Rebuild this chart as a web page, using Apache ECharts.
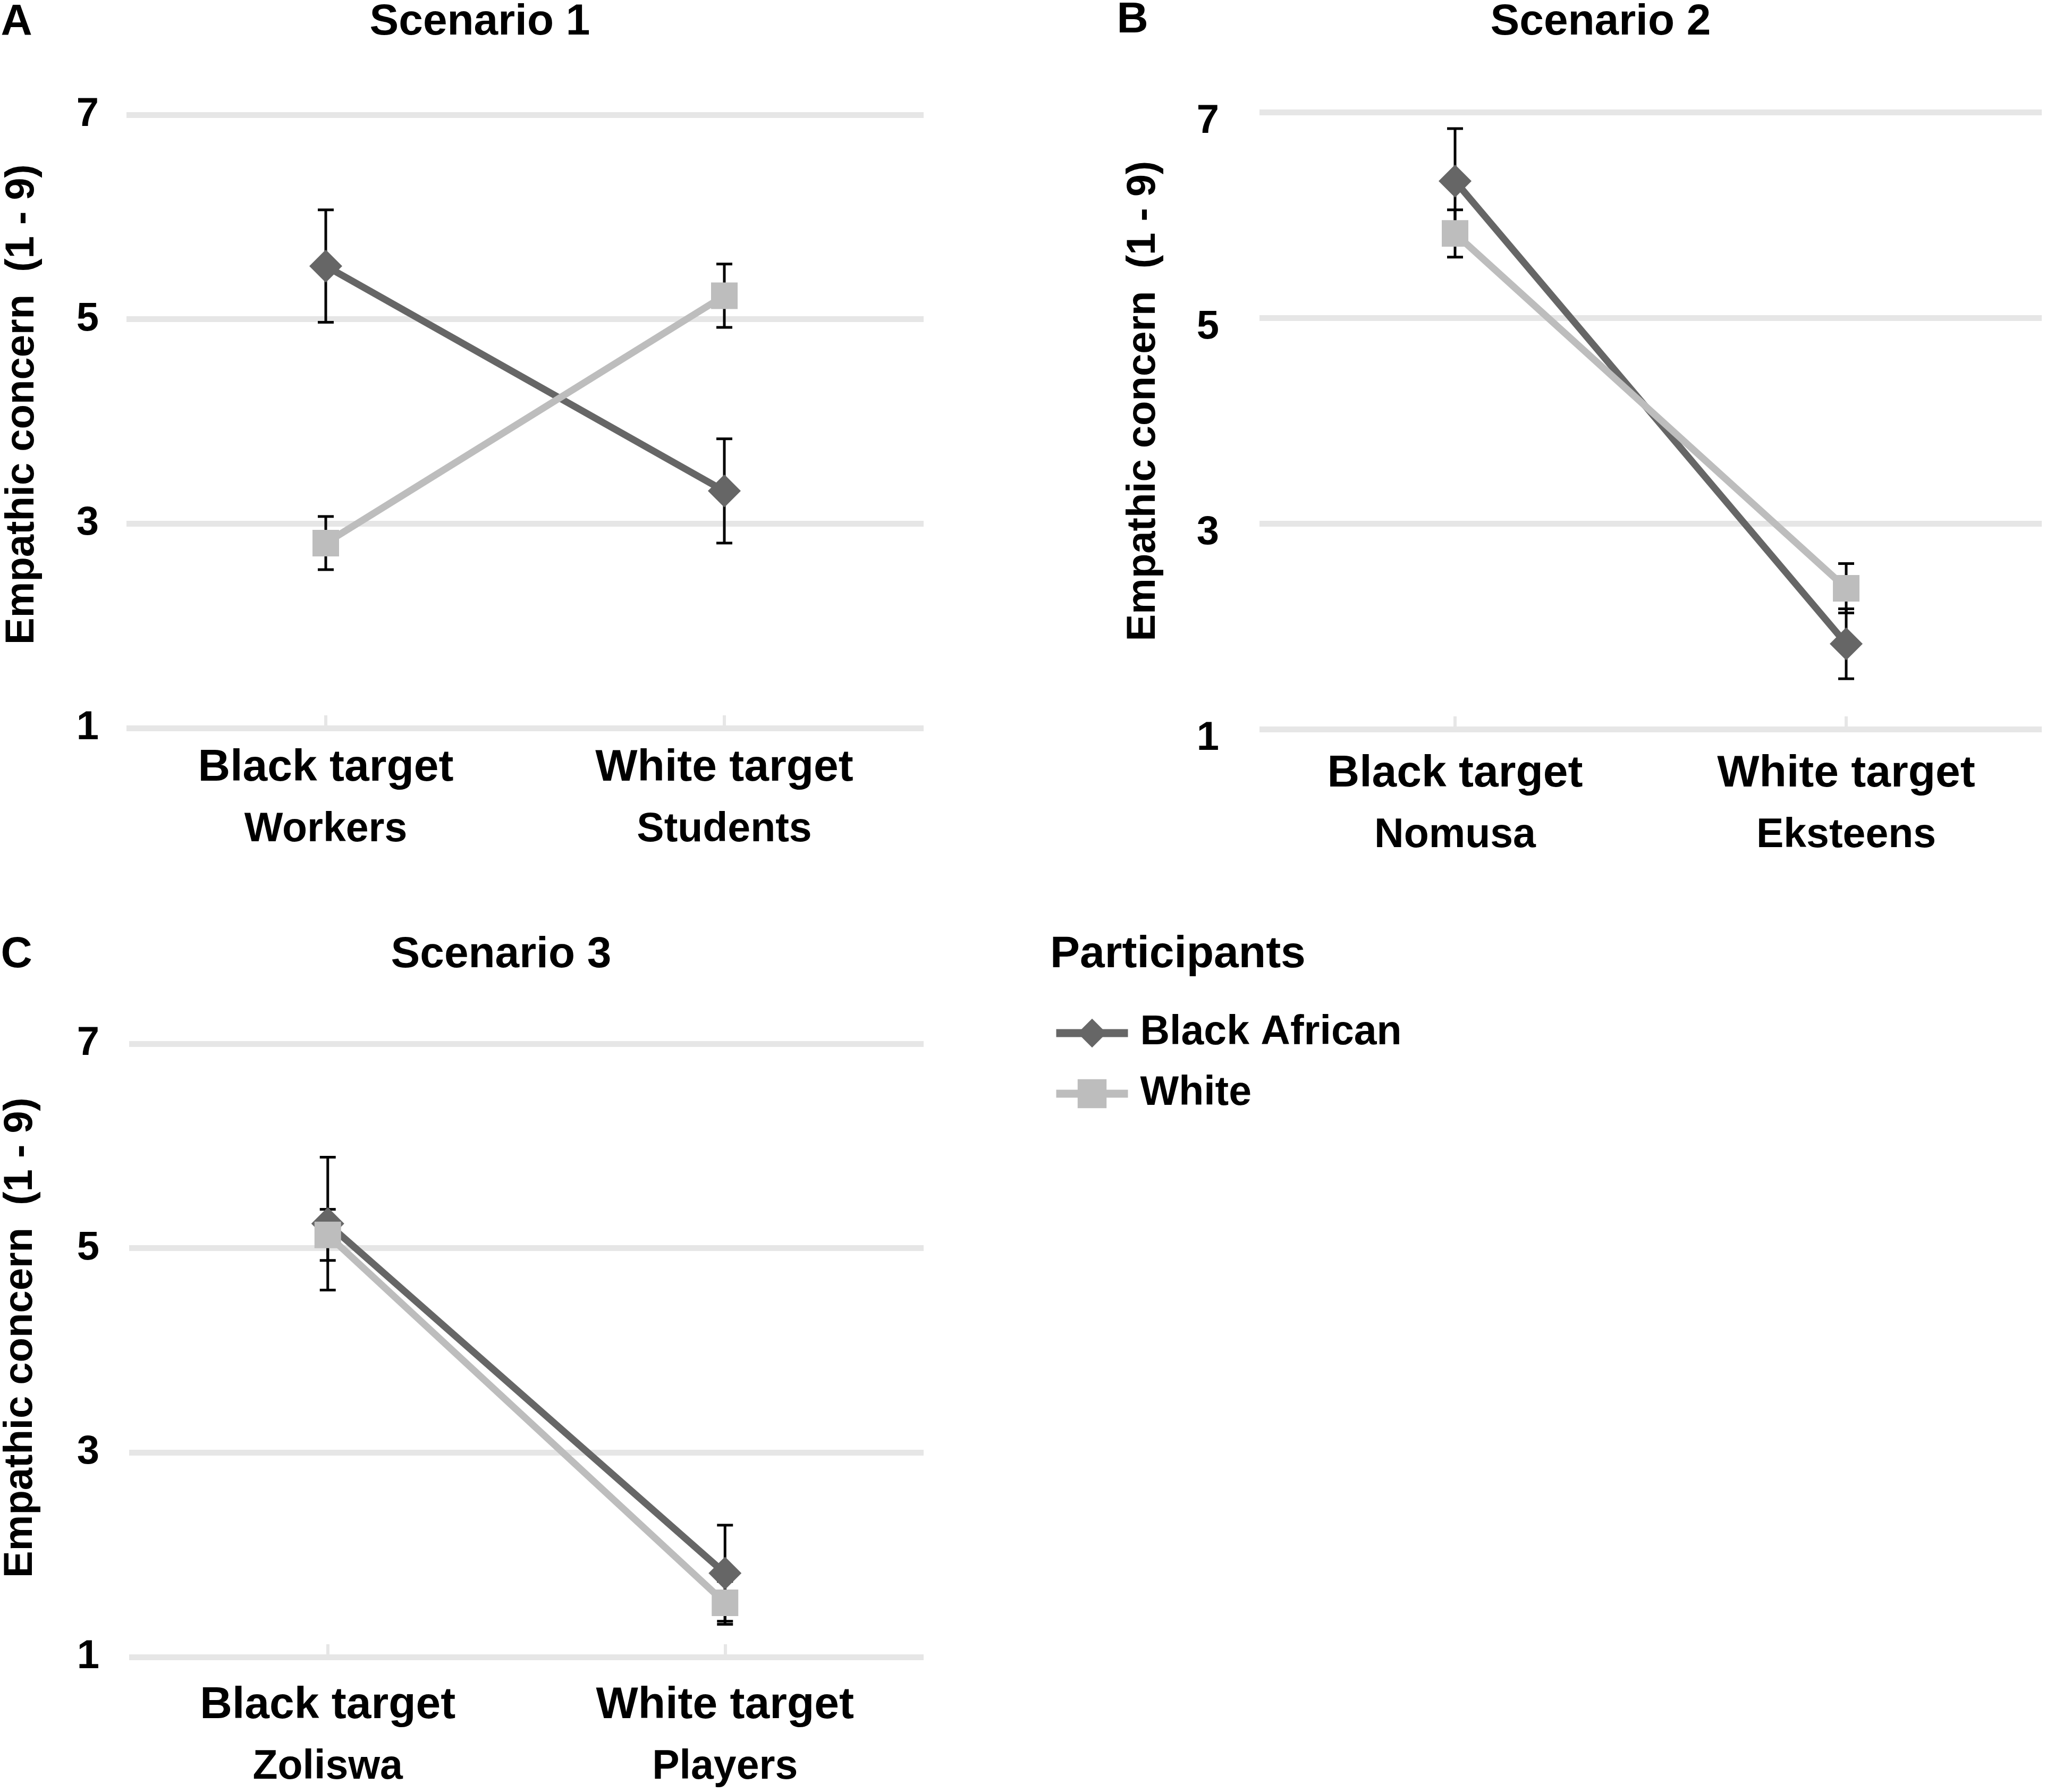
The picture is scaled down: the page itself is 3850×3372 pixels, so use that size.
<!DOCTYPE html>
<html>
<head>
<meta charset="utf-8">
<script src="https://cdn.jsdelivr.net/npm/echarts@6/dist/echarts.min.js"></script>
<style>
html,body{margin:0;padding:0;background:#ffffff;}
#chart{width:3850px;height:3372px;}
</style>
</head>
<body>
<div id="chart"></div>
<script>
// ---- data ----
const categories = ['Black target', 'White target'];
const subLabelsA = ['Workers', 'Students'];
const subLabelsB = ['Nomusa', 'Eksteens'];
const subLabelsC = ['Zoliswa', 'Players'];
const seriesNames = ['Black African', 'White'];
const panelTitles = ['Scenario 1', 'Scenario 2', 'Scenario 3'];
const panelLetters = ['A', 'B', 'C'];
const yAxisName = 'Empathic concern  (1 - 9)';
const legendTitle = 'Participants';
const yMin = 1, yMax = 7, yStep = 2;

const s1Black = [5.52, 3.32];
const s1BlackErr = [0.55, 0.51];
const s1White = [2.81, 5.23];
const s1WhiteErr = [0.26, 0.31];

const s2Black = [6.33, 1.83];
const s2BlackErr = [0.51, 0.34];
const s2White = [5.82, 2.37];
const s2WhiteErr = [0.23, 0.24];

const s3Black = [5.24, 1.82];
const s3BlackErr = [0.65, 0.47];
const s3White = [5.13, 1.53];
const s3WhiteErr = [0.25, 0.21];

// ---- styles ----
const FONT = '"Liberation Sans", Arial, Helvetica, sans-serif';
const DARK = '#666666';
const LIGHT = '#bdbdbd';
const GRID = '#e6e6e6';

const panels = [
  {grid: {left: 238, top: 216, width: 1500, height: 1154}, sub: subLabelsA,
   black: s1Black, blackErr: s1BlackErr, white: s1White, whiteErr: s1WhiteErr,
   nameGap: 158, namePad: 64, labelMargin: 52, labelPadTop: 0, xMargin: 18},
  {grid: {left: 2370, top: 211, width: 1472, height: 1161}, sub: subLabelsB,
   black: s2Black, blackErr: s2BlackErr, white: s2White, whiteErr: s2WhiteErr,
   nameGap: 180, namePad: 74, labelMargin: 76, labelPadTop: 36, xMargin: 27},
  {grid: {left: 240, top: 1964, width: 1498, height: 1154}, sub: subLabelsC,
   black: s3Black, blackErr: s3BlackErr, white: s3White, whiteErr: s3WhiteErr,
   nameGap: 166, namePad: 48, labelMargin: 56, labelPadTop: 0, xMargin: 34}
];

function errRender(params, api) {
  const x = api.value(0);
  const lo = api.value(1);
  const hi = api.value(2);
  const pHi = api.coord([x, hi]);
  const pLo = api.coord([x, lo]);
  const cap = 15;
  const st = {stroke: '#000000', lineWidth: 5, fill: null};
  return {
    type: 'group',
    children: [
      {type: 'line', shape: {x1: pHi[0], y1: pHi[1], x2: pLo[0], y2: pLo[1]}, style: st},
      {type: 'line', shape: {x1: pHi[0] - cap, y1: pHi[1], x2: pHi[0] + cap, y2: pHi[1]}, style: st},
      {type: 'line', shape: {x1: pLo[0] - cap, y1: pLo[1], x2: pLo[0] + cap, y2: pLo[1]}, style: st}
    ]
  };
}

const grids = [], xAxes = [], yAxes = [], series = [];
panels.forEach((p, i) => {
  grids.push(Object.assign({containLabel: false}, p.grid));
  xAxes.push({
    type: 'category', gridIndex: i, data: categories, boundaryGap: true,
    axisLine: {show: false},
    axisTick: {show: true, alignWithLabel: true, inside: true, length: 24,
               lineStyle: {color: GRID, width: 6}},
    axisLabel: {
      margin: p.xMargin, interval: 0,
      formatter: (v, idx) => '{a|' + v + '}\n{b|' + p.sub[idx] + '}',
      rich: {
        a: {fontFamily: FONT, fontWeight: 'bold', fontSize: 84, color: '#000', lineHeight: 116},
        b: {fontFamily: FONT, fontWeight: 'bold', fontSize: 77, color: '#000', lineHeight: 116}
      }
    },
    splitLine: {show: false}
  });
  yAxes.push({
    type: 'value', gridIndex: i, min: yMin, max: yMax, interval: yStep,
    name: yAxisName, nameLocation: 'middle', nameRotate: 90, nameGap: p.nameGap,
    nameTextStyle: {fontFamily: FONT, fontWeight: 'bold', fontSize: 76, color: '#000',
                    padding: [0, 0, 0, p.namePad]},
    axisLine: {show: false}, axisTick: {show: false},
    axisLabel: {
      margin: p.labelMargin,
      formatter: v => '{t|' + v + '}',
      rich: {t: {fontFamily: FONT, fontWeight: 'bold', fontSize: 76, color: '#000',
                 padding: [p.labelPadTop, 0, 0, 0]}}
    },
    splitLine: {show: true, lineStyle: {color: GRID, width: 11}}
  });
  series.push({
    type: 'custom', name: 'err-black-' + i, xAxisIndex: i, yAxisIndex: i, z: 1,
    renderItem: errRender, encode: {x: 0, y: [1, 2]}, silent: true,
    data: p.black.map((m, k) => [k, m - p.blackErr[k], m + p.blackErr[k]])
  });
  series.push({
    type: 'custom', name: 'err-white-' + i, xAxisIndex: i, yAxisIndex: i, z: 1,
    renderItem: errRender, encode: {x: 0, y: [1, 2]}, silent: true,
    data: p.white.map((m, k) => [k, m - p.whiteErr[k], m + p.whiteErr[k]])
  });
  series.push({
    type: 'line', name: seriesNames[0], xAxisIndex: i, yAxisIndex: i, z: 3,
    data: p.black, symbol: 'diamond', symbolSize: 62,
    lineStyle: {color: DARK, width: 13}, itemStyle: {color: DARK}
  });
  series.push({
    type: 'line', name: seriesNames[1], xAxisIndex: i, yAxisIndex: i, z: 4,
    data: p.white, symbol: 'rect', symbolSize: 50,
    lineStyle: {color: LIGHT, width: 13}, itemStyle: {color: LIGHT}
  });
});

const textStyleBase = {fontFamily: FONT, fontWeight: 'bold', fill: '#000', align: 'center', verticalAlign: 'middle'};
const graphics = [
  {type: 'text', x: 903, y: 42, style: Object.assign({text: panelTitles[0], fontSize: 82}, textStyleBase)},
  {type: 'text', x: 3012, y: 42, style: Object.assign({text: panelTitles[1], fontSize: 82}, textStyleBase)},
  {type: 'text', x: 943, y: 1797, style: Object.assign({text: panelTitles[2], fontSize: 82}, textStyleBase)},
  {type: 'text', x: 31, y: 42, style: Object.assign({text: panelLetters[0], fontSize: 82}, textStyleBase)},
  {type: 'text', x: 2131, y: 38, style: Object.assign({text: panelLetters[1], fontSize: 82}, textStyleBase)},
  {type: 'text', x: 31, y: 1797, style: Object.assign({text: panelLetters[2], fontSize: 82}, textStyleBase)},
  {type: 'text', x: 1976, y: 1797, style: Object.assign({}, textStyleBase, {text: legendTitle, fontSize: 84, align: 'left'})}
];

const chart = echarts.init(document.getElementById('chart'), null, {renderer: 'canvas'});
chart.setOption({
  animation: false,
  backgroundColor: '#ffffff',
  grid: grids,
  xAxis: xAxes,
  yAxis: yAxes,
  legend: {
    data: seriesNames, orient: 'vertical', left: 1980, top: 1904,
    itemWidth: 135, itemHeight: 68, itemGap: 34, padding: 0,
    lineStyle: {width: 15},
    textStyle: {fontFamily: FONT, fontWeight: 'bold', fontSize: 77, color: '#000',
                lineHeight: 80, padding: [0, 0, 0, 18]}
  },
  graphic: graphics,
  series: series
});
</script>
</body>
</html>
